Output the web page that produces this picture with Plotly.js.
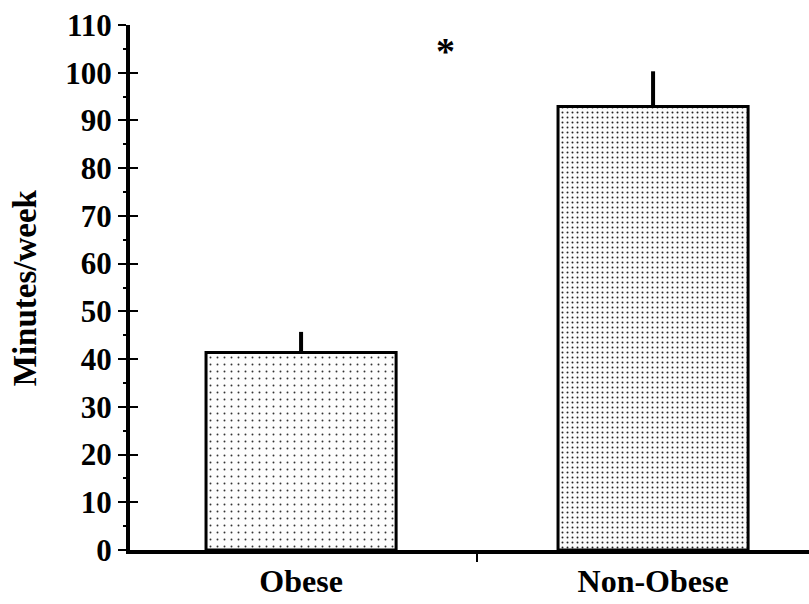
<!DOCTYPE html>
<html>
<head>
<meta charset="utf-8">
<script src="https://cdn.plot.ly/plotly-3.0.1.min.js"></script>
<style>html,body{margin:0;padding:0;background:#fff;}#chart{width:809px;height:604px;}</style>
</head>
<body>
<div id="chart"></div>
<script>
const categories = ["Obese", "Non-Obese"];
const minutesPerWeek = [41.4, 92.9];
const sePlus = [4.3, 7.4];
const yTickVals = [0, 10, 20, 30, 40, 50, 60, 70, 80, 90, 100, 110];
const yTickText = ["0", "10", "20", "30", "40", "50", "60", "70", "80", "90", "100", "110"];
const yLabel = "Minutes/week";
const sigMarker = "*";

const F = "Liberation Serif, Times New Roman, serif";

const traces = [
  {
    type: "bar",
    x: [categories[0]],
    y: [minutesPerWeek[0]],
    width: 0.54,
    marker: {
      color: "#fbfbfb",
      line: {color: "#000", width: 3},
      pattern: {shape: ".", fgcolor: "#333", bgcolor: "#fdfdfd", size: 7, solidity: 0.06}
    },
    error_y: {type: "data", symmetric: false, array: [sePlus[0]], arrayminus: [0], width: 0, thickness: 4, color: "#000"},
    hoverinfo: "skip"
  },
  {
    type: "bar",
    x: [categories[1]],
    y: [minutesPerWeek[1]],
    width: 0.54,
    marker: {
      color: "#f0f0f0",
      line: {color: "#000", width: 3},
      pattern: {shape: ".", fgcolor: "#222", bgcolor: "#fafafa", size: 5, solidity: 0.12}
    },
    error_y: {type: "data", symmetric: false, array: [sePlus[1]], arrayminus: [0], width: 0, thickness: 4, color: "#000"},
    hoverinfo: "skip"
  },
  {
    type: "scatter", x: [categories[0]], y: [0], yaxis: "y2", mode: "markers",
    marker: {opacity: 0}, hoverinfo: "skip", showlegend: false
  }
];

const layout = {
  width: 809, height: 604,
  margin: {l: 130, r: 0, t: 25, b: 54},
  paper_bgcolor: "#fff", plot_bgcolor: "#fff",
  showlegend: false,
  bargap: 0,
  xaxis: {
    type: "category",
    categoryorder: "array", categoryarray: categories,
    range: [-0.486, 1.443],
    showline: true, linecolor: "#000", linewidth: 4,
    ticks: "outside", tickson: "boundaries", ticklen: 8, tickwidth: 1.5, tickcolor: "#000",
    tickfont: {family: F, size: 32, color: "#000", weight: "bold"},
    showgrid: false, zeroline: false, fixedrange: true
  },
  yaxis: {
    range: [0, 110],
    tickvals: yTickVals, ticktext: yTickText,
    showline: true, linecolor: "#000", linewidth: 4,
    ticks: "outside", ticklen: 8, tickwidth: 2, tickcolor: "#000",
    minor: {tickvals: [5,15,25,35,45,55,65,75,85,95,105], ticks: "outside", ticklen: 3, tickwidth: 2, tickcolor: "#000"},
    tickfont: {family: F, size: 31, color: "#000", weight: "bold"},
    showgrid: false, zeroline: false, fixedrange: true
  },
  yaxis2: {
    overlaying: "y", side: "left", anchor: "x",
    range: [0, 110], tickvals: yTickVals,
    showticklabels: false, ticks: "inside", ticklen: 8, tickwidth: 2, tickcolor: "#000",
    showline: false, showgrid: false, zeroline: false, fixedrange: true
  },
  annotations: [
    {x: 0.41, y: 104.6, xref: "x", yref: "y", text: sigMarker, showarrow: false,
     font: {family: F, size: 38, color: "#000", weight: "bold"}},
    {x: -0.155, y: 0.5, xref: "paper", yref: "paper", text: yLabel, textangle: -90,
     showarrow: false, xanchor: "center", yanchor: "middle",
     font: {family: F, size: 33, color: "#000", weight: "bold"}}
  ]
};

Plotly.newPlot("chart", traces, layout, {displayModeBar: false, staticPlot: true});
</script>
</body>
</html>
